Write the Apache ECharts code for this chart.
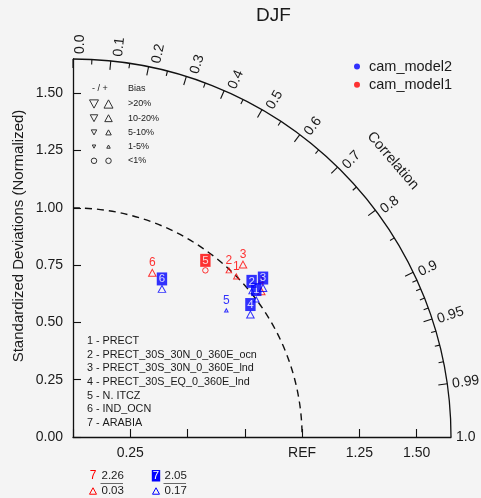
<!DOCTYPE html>
<html>
<head>
<meta charset="utf-8">
<script src="https://cdn.jsdelivr.net/npm/echarts@6/dist/echarts.min.js"></script>
<style>
  html, body { margin: 0; padding: 0; background: #f4f4f4; }
  #chart { width: 481px; height: 498px; }
</style>
</head>
<body>
<div id="chart"></div>
<script>
// Taylor diagram (DJF): normalized standard deviation against correlation

const FONT = "'Liberation Sans', Arial, Helvetica, sans-serif";
const R_MAX = 1.65;      // outer radius of the diagram
const REF = 1.0;         // reference standard deviation

// Standard-deviation axis ticks
const stdTicks = [0, 0.25, 0.5, 0.75, 1.0, 1.25, 1.5];
const stdXLabels = [0.25, 1.0, 1.25, 1.5];

// Correlation axis ticks and labels
const corrMajor  = [0.0, 0.1, 0.2, 0.3, 0.4, 0.5, 0.6, 0.7, 0.8, 0.9, 0.95, 0.99];
const corrLabels = ['0.0', '0.1', '0.2', '0.3', '0.4', '0.5', '0.6', '0.7', '0.8', '0.9', '0.95', '0.99'];
const corrMinor  = [0.05, 0.15, 0.25, 0.35, 0.45, 0.55, 0.65, 0.75, 0.85,
                    0.91, 0.92, 0.93, 0.94, 0.96, 0.97, 0.98];
const corrEndLabel = '1.0';

// Cases
const caseIds   = ['1', '2', '3', '4', '5', '6', '7'];
const caseNames = ['PRECT', 'PRECT_30S_30N_0_360E_ocn', 'PRECT_30S_30N_0_360E_lnd',
                   'PRECT_30S_EQ_0_360E_lnd', 'N. ITCZ', 'IND_OCN', 'ARABIA'];

// cam_model1 (red)
const model1Ratio = [1.000, 0.996, 1.057, 1.039, 0.929, 0.796, 2.26];
const model1Corr  = [0.713, 0.683, 0.702, 0.791, 0.622, 0.435, 0.03];
const model1Bias  = ['5-10%', '5-10%', '10-20%', '10-20%', '<1%', '10-20%', '10-20%'];
const model1Sign  = ['+', '+', '+', '+', '+', '+', '+'];
const model1Boxed = [false, false, false, false, true, false, false];

// cam_model2 (blue)
const model2Ratio = [1.000, 1.006, 1.054, 0.941, 0.868, 0.754, 2.05];
const model2Corr  = [0.800, 0.775, 0.787, 0.823, 0.771, 0.515, 0.17];
const model2Bias  = ['5-10%', '5-10%', '10-20%', '10-20%', '1-5%', '10-20%', '10-20%'];
const model2Sign  = ['+', '+', '+', '+', '+', '+', '+'];
const model2Boxed = [true, true, true, true, false, true, true];

// Bias legend classes
const biasClasses = ['>20%', '10-20%', '5-10%', '1-5%', '<1%'];
const biasSize = { '>20%': 9, '10-20%': 7.5, '5-10%': 5.5, '1-5%': 3.5, '<1%': 5.5 };

const RED = '#ff0000';
const BLUE = '#0000ff';
const INK = '#1a1a1a';

function polarToXY(ratio, corr) {
  return [ratio * corr, ratio * Math.sqrt(1 - corr * corr)];
}

function markerSpec(bias, sign) {
  const s = biasSize[bias];
  if (bias === '<1%') return { symbol: 'circle', symbolSize: s, symbolRotate: 0 };
  return { symbol: 'triangle', symbolSize: [s, s * 0.92], symbolRotate: sign === '+' ? 0 : 180 };
}

function buildSeries(name, color, ratio, corr, bias, sign, boxed) {
  const data = [];
  for (let i = 0; i < ratio.length; i++) {
    if (ratio[i] > R_MAX) continue;
    const m = markerSpec(bias[i], sign[i]);
    data.push({
      value: polarToXY(ratio[i], corr[i]),
      symbol: m.symbol,
      symbolSize: m.symbolSize,
      symbolRotate: m.symbolRotate,
      label: boxed[i]
        ? { show: true, formatter: caseIds[i], position: 'inside', offset: [0, -10],
            color: '#ffffff', backgroundColor: color, padding: [1, 2, 0, 2],
            fontSize: 11.5, fontFamily: FONT }
        : { show: true, formatter: caseIds[i], position: 'inside', offset: [0, -10],
            color: color, fontSize: 12, fontFamily: FONT }
    });
  }
  return {
    name: name,
    type: 'scatter',
    data: data,
    itemStyle: { color: 'transparent', borderColor: color, borderWidth: 1 },
    emphasis: { disabled: true },
    silent: true,
    z: 5
  };
}

// Arcs, correlation ticks and labels drawn in data space
function renderFrame(params, api) {
  const o = api.coord([0, 0]);
  const rOut = api.coord([R_MAX, 0])[0] - o[0];
  const rRef = api.coord([REF, 0])[0] - o[0];
  const kids = [];
  kids.push({
    type: 'arc',
    shape: { cx: o[0], cy: o[1], r: rRef, startAngle: -Math.PI / 2, endAngle: 0, clockwise: true },
    style: { fill: 'none', stroke: '#111', lineWidth: 1.4, lineDash: [7, 5] }
  });
  kids.push({
    type: 'arc',
    shape: { cx: o[0], cy: o[1], r: rOut, startAngle: -Math.PI / 2, endAngle: 0, clockwise: true },
    style: { fill: 'none', stroke: '#111', lineWidth: 1.3 }
  });
  function tick(c, len) {
    const t = Math.acos(c);
    const p = api.coord([R_MAX * c, R_MAX * Math.sin(t)]);
    const ux = Math.cos(t), uy = -Math.sin(t);
    kids.push({
      type: 'line',
      shape: { x1: p[0], y1: p[1], x2: p[0] - ux * len, y2: p[1] - uy * len },
      style: { stroke: '#111', lineWidth: 1.1 }
    });
  }
  function label(c, text) {
    const t = Math.acos(c);
    const p = api.coord([R_MAX * c, R_MAX * Math.sin(t)]);
    const ux = Math.cos(t), uy = -Math.sin(t);
    // perpendicular (clockwise) direction
    const vx = Math.sin(t), vy = Math.cos(t);
    const gap = 5, side = 7 * Math.sin(t);
    kids.push({
      type: 'text',
      x: p[0] + ux * gap + vx * side,
      y: p[1] + uy * gap + vy * side,
      rotation: t,
      style: { text: text, align: 'left', verticalAlign: 'middle',
               font: '14px ' + FONT, fill: INK }
    });
  }
  corrMajor.forEach((c, i) => { tick(c, 9); label(c, corrLabels[i]); });
  corrMinor.forEach(c => tick(c, 5));
  label(1.0, corrEndLabel);

  // axis title along the correlation arc
  const tc = 0.757, rt = 1.845;
  const pt = api.coord([rt * tc, rt * Math.sqrt(1 - tc * tc)]);
  const at = Math.acos(tc);
  kids.push({
    type: 'text',
    x: pt[0], y: pt[1],
    rotation: at - Math.PI / 2,
    style: { text: 'Correlation', align: 'center', verticalAlign: 'middle',
             font: '14.5px ' + FONT, fill: INK }
  });
  return { type: 'group', children: kids };
}

// Bias-size legend, case list, axis title and off-scale annotations
function buildGraphics() {
  const g = [];
  g.push({ type: 'text', x: 18.5, y: 236, rotation: Math.PI / 2,
           style: { text: 'Standardized Deviations (Normalized)', font: '15px ' + FONT, fill: INK,
                    align: 'center', verticalAlign: 'middle' } });

  const bx = 93, by = 89, dy = 14.2;
  g.push({ type: 'text', x: 92, y: by, style: { text: '- / +', font: '9px ' + FONT, fill: INK, verticalAlign: 'middle' } });
  g.push({ type: 'text', x: 128, y: by, style: { text: 'Bias', font: '9px ' + FONT, fill: INK, verticalAlign: 'middle' } });
  biasClasses.forEach((b, i) => {
    const y = by + 15 + i * dy;
    const s = biasSize[b];
    if (b === '<1%') {
      g.push({ type: 'circle', shape: { cx: bx + 1, cy: y, r: s / 2 }, style: { fill: 'none', stroke: '#333', lineWidth: 1 } });
      g.push({ type: 'circle', shape: { cx: bx + 15.5, cy: y, r: s / 2 }, style: { fill: 'none', stroke: '#333', lineWidth: 1 } });
    } else {
      const h = s * 0.92;
      g.push({ type: 'polygon', shape: { points: [[bx + 1 - s / 2, y - h / 2], [bx + 1 + s / 2, y - h / 2], [bx + 1, y + h / 2]] },
               style: { fill: 'none', stroke: '#333', lineWidth: 1 } });
      g.push({ type: 'polygon', shape: { points: [[bx + 15.5 - s / 2, y + h / 2], [bx + 15.5 + s / 2, y + h / 2], [bx + 15.5, y - h / 2]] },
               style: { fill: 'none', stroke: '#333', lineWidth: 1 } });
    }
    g.push({ type: 'text', x: 128, y: y, style: { text: b, font: '9px ' + FONT, fill: INK, verticalAlign: 'middle' } });
  });

  caseNames.forEach((n, i) => {
    g.push({ type: 'text', x: 87, y: 341 + i * 13.7,
             style: { text: caseIds[i] + ' - ' + n, font: '10.8px ' + FONT, fill: INK, verticalAlign: 'middle' } });
  });

  // points beyond the outer radius: ratio over correlation
  const off = [
    { color: RED, ratio: model1Ratio, corr: model1Corr, bias: model1Bias, sign: model1Sign, boxed: model1Boxed, x: 93 },
    { color: BLUE, ratio: model2Ratio, corr: model2Corr, bias: model2Bias, sign: model2Sign, boxed: model2Boxed, x: 156 }
  ];
  off.forEach(m => {
    let k = 0;
    m.ratio.forEach((r, i) => {
      if (r <= R_MAX) return;
      const x = m.x + k * 63; k++;
      const y1 = 476, y2 = 491;
      if (m.boxed[i]) {
        g.push({ type: 'rect', shape: { x: x - 4.2, y: y1 - 6, width: 8.4, height: 11.5 }, style: { fill: m.color } });
        g.push({ type: 'text', x: x, y: y1, style: { text: caseIds[i], font: '11.5px ' + FONT, fill: '#fff', align: 'center', verticalAlign: 'middle' } });
      } else {
        g.push({ type: 'text', x: x, y: y1, style: { text: caseIds[i], font: '12px ' + FONT, fill: m.color, align: 'center', verticalAlign: 'middle' } });
      }
      const s = biasSize[m.bias[i]] - 0.5, h = s * 0.92;
      g.push({ type: 'polygon', shape: { points: [[x - s / 2, y2 + h / 2], [x + s / 2, y2 + h / 2], [x, y2 - h / 2]] },
               style: { fill: 'none', stroke: m.color, lineWidth: 1 } });
      g.push({ type: 'text', x: x + 8.5, y: y1, style: { text: r.toFixed(2), font: '11.5px ' + FONT, fill: INK, verticalAlign: 'middle' } });
      g.push({ type: 'line', shape: { x1: x + 7.5, y1: 483.5, x2: x + 30, y2: 483.5 }, style: { stroke: '#444', lineWidth: 0.8 } });
      g.push({ type: 'text', x: x + 8.5, y: y2, style: { text: m.corr[i].toFixed(2), font: '11.5px ' + FONT, fill: INK, verticalAlign: 'middle' } });
    });
  });
  return g;
}

const chart = echarts.init(document.getElementById('chart'), null, { renderer: 'canvas' });

const option = {
  backgroundColor: '#f4f4f4',
  animation: false,
  textStyle: { fontFamily: FONT },
  title: {
    text: 'DJF',
    left: 251, top: 1,
    textStyle: { fontSize: 19, fontWeight: 'normal', color: INK, fontFamily: FONT }
  },
  legend: {
    orient: 'vertical',
    left: 349, top: 53,
    itemWidth: 14, itemHeight: 6,
    itemGap: 1.2,
    selectedMode: false,
    textStyle: { fontSize: 14.5, color: INK, fontFamily: FONT, lineHeight: 17 },
    data: [
      { name: 'cam_model2', icon: 'circle', itemStyle: { color: BLUE, borderWidth: 0 } },
      { name: 'cam_model1', icon: 'circle', itemStyle: { color: RED, borderWidth: 0 } }
    ]
  },
  grid: { left: 73, top: 59, width: 378, height: 378 },
  xAxis: {
    type: 'value', min: 0, max: R_MAX, interval: 0.25,
    axisLine: { show: true, onZero: false, lineStyle: { color: '#111', width: 1.3 } },
    axisTick: { show: true, inside: true, length: 8, customValues: stdTicks, lineStyle: { color: '#111', width: 1.1 } },
    axisLabel: {
      customValues: stdXLabels, margin: 9, fontSize: 14, color: INK, fontFamily: FONT,
      formatter: v => (Math.abs(v - REF) < 1e-9 ? 'REF' : v.toFixed(2))
    },
    splitLine: { show: false }
  },
  yAxis: {
    type: 'value', min: 0, max: R_MAX, interval: 0.25,
    axisLine: { show: true, onZero: false, lineStyle: { color: '#111', width: 1.3 } },
    axisTick: { show: true, inside: true, length: 8, customValues: stdTicks, lineStyle: { color: '#111', width: 1.1 } },
    axisLabel: {
      customValues: stdTicks, margin: 10, fontSize: 14, color: INK, fontFamily: FONT,
      formatter: v => v.toFixed(2)
    },
    splitLine: { show: false }
  },
  graphic: buildGraphics(),
  series: [
    {
      type: 'custom',
      name: 'frame',
      renderItem: renderFrame,
      data: [0],
      clip: false,
      silent: true,
      z: 1
    },
    buildSeries('cam_model1', RED, model1Ratio, model1Corr, model1Bias, model1Sign, model1Boxed),
    buildSeries('cam_model2', BLUE, model2Ratio, model2Corr, model2Bias, model2Sign, model2Boxed)
  ]
};

chart.setOption(option);
</script>
</body>
</html>
